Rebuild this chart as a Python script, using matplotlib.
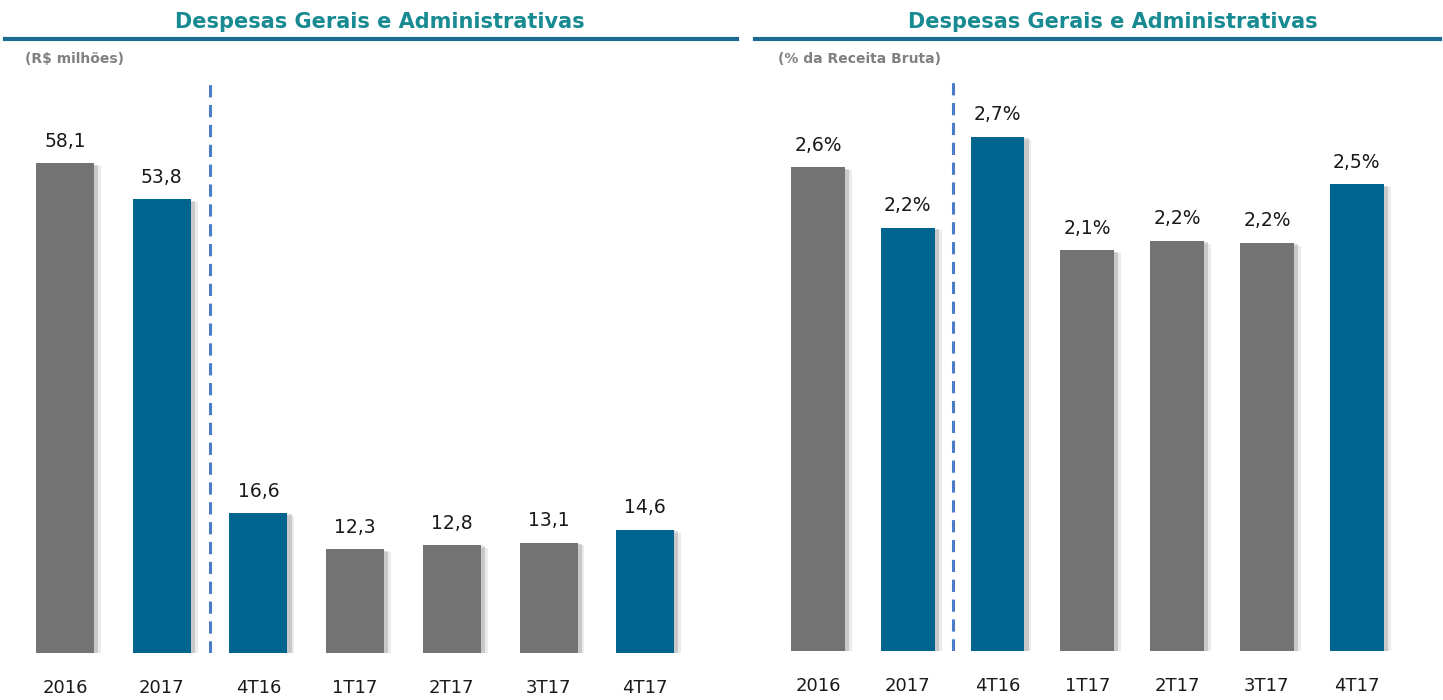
import matplotlib.pyplot as plt
import matplotlib.patheffects as pe

categories = ["2016", "2017", "4T16", "1T17", "2T17", "3T17", "4T17"]
valores_rs = [58.1, 53.8, 16.6, 12.3, 12.8, 13.1, 14.6]
valores_pct = [2.56, 2.24, 2.72, 2.12, 2.17, 2.16, 2.47]
destaque = [False, True, True, False, False, False, True]

GRAY = "#737373"
BLUE = "#006491"
TITLE = "#178a92"
RULE = "#1b6a8f"
DASH = "#4a7cc8"

W, H = 1443, 700
fig = plt.figure(figsize=(W / 100, H / 100), dpi=100)


def px_axes(left, base, width, height):
    # pixel box (from top-left) -> figure fraction
    return fig.add_axes([left / W, (H - base) / H, width / W, height / H])


def panel(ax, vals, ymax, fmt, dash_top):
    colors = [BLUE if d else GRAY for d in destaque]
    bars = ax.bar(range(len(vals)), vals, width=0.6, color=colors, zorder=2)
    for b in bars:
        b.set_path_effects([pe.SimplePatchShadow(offset=(5, -2), shadow_rgbFace="black", alpha=0.08),
                            pe.SimplePatchShadow(offset=(3, -1), shadow_rgbFace="black", alpha=0.15),
                            pe.Normal()])
    for i, v in enumerate(vals):
        ax.annotate(fmt(v), (i, v), xytext=(0, 9), textcoords="offset points",
                    ha="center", va="bottom", fontsize=13.5, color="#1a1a1a")
    ax.plot([1.5, 1.5], [0, dash_top], ls=(0, (4, 2.5)), color=DASH, lw=2.2, zorder=1)
    ax.set_xlim(-0.5, len(vals) - 0.5)
    ax.set_ylim(0, ymax)
    ax.set_xticks(range(len(vals)))
    ax.set_xticklabels(categories, fontsize=13, color="#1a1a1a")
    ax.tick_params(axis="x", length=0, pad=19)
    ax.set_yticks([])
    for s in ax.spines.values():
        s.set_visible(False)
    ax.patch.set_alpha(0)


# left panel: R$ milhoes, 8.43 px per unit
ax1 = px_axes(16.6, 653, 677, 70 * 8.43)
panel(ax1, valores_rs, 70, lambda v: f"{v:.1f}".replace(".", ","), 68)

# right panel: % receita bruta, 189 px per unit
ax2 = px_axes(773, 651, 628.6, 3.2 * 189)
panel(ax2, valores_pct, 3.2, lambda v: f"{v:.1f}%".replace(".", ","), 3.01)

# titles, rules, subtitles
for x0, x1, xc, sub, sx in [(5, 737, 380, "(R$ milhões)", 25),
                            (755, 1440, 1113, "(% da Receita Bruta)", 778)]:
    fig.text(xc / W, 1 - 22 / H, "Despesas Gerais e Administrativas", ha="center", va="center",
             fontsize=15, fontweight="bold", color=TITLE)
    fig.add_artist(plt.Line2D([x0 / W, x1 / W], [1 - 39 / H, 1 - 39 / H], color=RULE, lw=3))
    fig.text(sx / W, 1 - 59 / H, sub, ha="left", va="center", fontsize=10,
             fontweight="bold", color="#808080")

fig.savefig("out.png", dpi=100)
